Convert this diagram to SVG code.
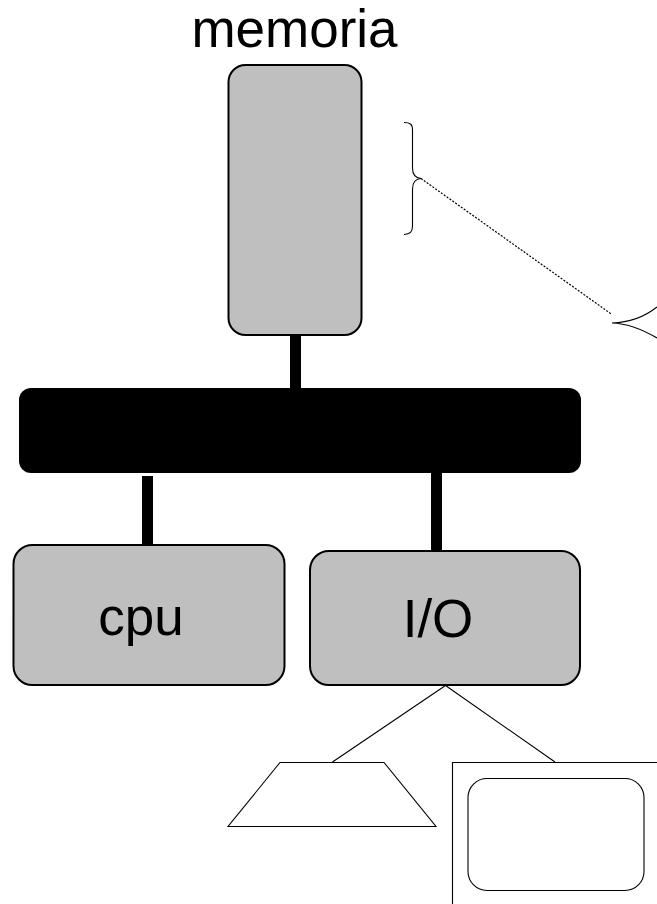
<svg xmlns="http://www.w3.org/2000/svg" width="657" height="904" viewBox="0 0 657 904">
<style>
.box{fill:#bfbfbf;stroke:#000;stroke-width:2}
.thin{fill:none;stroke:#000;stroke-width:1.100}
.bus{fill:none;stroke:#000;stroke-width:11}
text{font-family:"Liberation Sans",Arial,sans-serif;fill:#000;text-anchor:middle;font-size:53px}
</style>
<rect width="657" height="904" fill="#fff"/>
<g id="connectors">
<line class="bus" x1="295.500" y1="335" x2="295.500" y2="389"/>
<line class="bus" x1="147.500" y1="476" x2="147.500" y2="546"/>
<line class="bus" x1="436.500" y1="472" x2="436.500" y2="552"/>
<path class="thin" d="M445.500 685.500L332.500 762M445.500 685.500L555 762"/>
<line x1="421" y1="178.500" x2="612" y2="314.500" stroke="#000" stroke-width="1.200" stroke-dasharray="2 1.500"/>
</g>
<g id="memoria"><rect class="box" x="228.500" y="65" width="133" height="270" rx="17"/>
<text x="294.500" y="47">memoria</text></g>
<g id="bus"><rect x="19" y="388" width="562" height="85" rx="12" fill="#000"/></g>
<g id="cpu"><rect class="box" x="13.500" y="545" width="271" height="140" rx="19"/>
<text x="141" y="635">cpu</text></g>
<g id="io"><rect class="box" x="310" y="551" width="270" height="134" rx="19"/>
<text x="438" y="637">I/O</text></g>
<g id="brace"><path class="thin" d="M404 122.500C410 122.500 412.500 124 412.500 130V168C412.500 174 415 178 421 178.500C415 179 412.500 183 412.500 189V226C412.500 232 410 234 404 234.500"/></g>
<g id="eye"><path class="thin" d="M612 323C630 322.500 645 316.500 657 307M612 323C630 323.500 645 331 657 338"/></g>
<g id="keyboard"><path class="thin" d="M280 762.500H384L436 826.500H228Z" fill="#fff"/></g>
<g id="monitor"><path class="thin" d="M452.500 904V762.500H657"/>
<rect class="thin" x="468" y="778.500" width="176" height="112" rx="19"/></g>
</svg>
